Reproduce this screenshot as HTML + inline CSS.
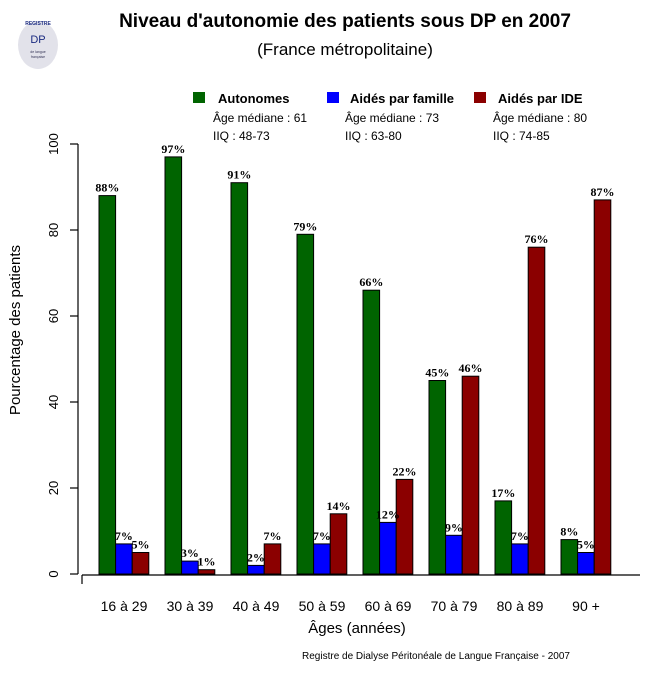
<!DOCTYPE html>
<html><head><meta charset="utf-8"><style>
body{margin:0;background:#fff}
text{font-family:"Liberation Sans",sans-serif}
.v{font-family:"Liberation Serif",serif;font-size:12px;font-weight:bold;text-anchor:middle}
.b rect{stroke:#000;stroke-width:1}
</style></head><body>
<svg width="672" height="672" viewBox="0 0 672 672" xmlns="http://www.w3.org/2000/svg">
<rect width="672" height="672" fill="#fff"/>
<ellipse cx="38" cy="45" rx="20" ry="24" fill="#e2e2ea"/>
<text x="38" y="43" font-size="11" text-anchor="middle" fill="#1a2a80" font-family="Liberation Serif">DP</text>
<text x="38" y="25" font-size="5" text-anchor="middle" fill="#1a2a80" font-weight="bold">REGISTRE</text>
<text x="38" y="53" font-size="3.5" text-anchor="middle" fill="#335">de langue</text>
<text x="38" y="58" font-size="3.5" text-anchor="middle" fill="#335">française</text>
<text x="345" y="27" font-size="19" font-weight="bold" text-anchor="middle">Niveau d'autonomie des patients sous DP en 2007</text>
<text x="345" y="55" font-size="17" text-anchor="middle">(France métropolitaine)</text>
<rect x="193" y="92" width="12" height="11" fill="#006400"/>
<text x="218" y="103" font-size="13" font-weight="bold">Autonomes</text>
<rect x="327" y="92" width="12" height="11" fill="#0000ff"/>
<text x="350" y="103" font-size="13" font-weight="bold">Aidés par famille</text>
<rect x="474" y="92" width="12" height="11" fill="#8b0000"/>
<text x="498" y="103" font-size="13" font-weight="bold">Aidés par IDE</text>
<g font-size="12">
<text x="213" y="122">Âge médiane : 61</text><text x="213" y="140">IIQ : 48-73</text>
<text x="345" y="122">Âge médiane : 73</text><text x="345" y="140">IIQ : 63-80</text>
<text x="493" y="122">Âge médiane : 80</text><text x="493" y="140">IIQ : 74-85</text>
</g>
<g stroke="#000" stroke-width="1.2">
<line x1="78" y1="144" x2="78" y2="574"/>
<line x1="70" y1="144" x2="78" y2="144"/><line x1="70" y1="230" x2="78" y2="230"/>
<line x1="70" y1="316" x2="78" y2="316"/><line x1="70" y1="402" x2="78" y2="402"/>
<line x1="70" y1="488" x2="78" y2="488"/><line x1="70" y1="574" x2="78" y2="574"/>
<line x1="82" y1="575" x2="640" y2="575"/><line x1="82" y1="575" x2="82" y2="584"/>
</g>
<g font-size="13" text-anchor="middle">
<text transform="translate(58,144) rotate(-90)">100</text>
<text transform="translate(58,230) rotate(-90)">80</text>
<text transform="translate(58,316) rotate(-90)">60</text>
<text transform="translate(58,402) rotate(-90)">40</text>
<text transform="translate(58,488) rotate(-90)">20</text>
<text transform="translate(58,574) rotate(-90)">0</text>
<text transform="translate(20,330) rotate(-90)" font-size="15">Pourcentage des patients</text>
</g>
<g class="b">
<g transform="translate(99,0)">
<rect x="0" y="195.6" width="16.6" height="378.4" fill="#006400"/><rect x="16.6" y="543.9" width="16.6" height="30.1" fill="#0000ff"/><rect x="33.2" y="552.5" width="16.6" height="21.5" fill="#8b0000"/>
<text class="v" x="8.3" y="191.6">88%</text><text class="v" x="24.9" y="539.9">7%</text><text class="v" x="41.5" y="548.5">5%</text></g>
<g transform="translate(165,0)">
<rect x="0" y="156.9" width="16.6" height="417.1" fill="#006400"/><rect x="16.6" y="561.1" width="16.6" height="12.9" fill="#0000ff"/><rect x="33.2" y="569.7" width="16.6" height="4.3" fill="#8b0000"/>
<text class="v" x="8.3" y="152.9">97%</text><text class="v" x="24.9" y="557.1">3%</text><text class="v" x="41.5" y="565.7">1%</text></g>
<g transform="translate(231,0)">
<rect x="0" y="182.7" width="16.6" height="391.3" fill="#006400"/><rect x="16.6" y="565.4" width="16.6" height="8.6" fill="#0000ff"/><rect x="33.2" y="543.9" width="16.6" height="30.1" fill="#8b0000"/>
<text class="v" x="8.3" y="178.7">91%</text><text class="v" x="24.9" y="561.4">2%</text><text class="v" x="41.5" y="539.9">7%</text></g>
<g transform="translate(297,0)">
<rect x="0" y="234.3" width="16.6" height="339.7" fill="#006400"/><rect x="16.6" y="543.9" width="16.6" height="30.1" fill="#0000ff"/><rect x="33.2" y="513.8" width="16.6" height="60.2" fill="#8b0000"/>
<text class="v" x="8.3" y="230.3">79%</text><text class="v" x="24.9" y="539.9">7%</text><text class="v" x="41.5" y="509.8">14%</text></g>
<g transform="translate(363,0)">
<rect x="0" y="290.2" width="16.6" height="283.8" fill="#006400"/><rect x="16.6" y="522.4" width="16.6" height="51.6" fill="#0000ff"/><rect x="33.2" y="479.4" width="16.6" height="94.6" fill="#8b0000"/>
<text class="v" x="8.3" y="286.2">66%</text><text class="v" x="24.9" y="518.4">12%</text><text class="v" x="41.5" y="475.4">22%</text></g>
<g transform="translate(429,0)">
<rect x="0" y="380.5" width="16.6" height="193.5" fill="#006400"/><rect x="16.6" y="535.3" width="16.6" height="38.7" fill="#0000ff"/><rect x="33.2" y="376.2" width="16.6" height="197.8" fill="#8b0000"/>
<text class="v" x="8.3" y="376.5">45%</text><text class="v" x="24.9" y="531.3">9%</text><text class="v" x="41.5" y="372.2">46%</text></g>
<g transform="translate(495,0)">
<rect x="0" y="500.9" width="16.6" height="73.1" fill="#006400"/><rect x="16.6" y="543.9" width="16.6" height="30.1" fill="#0000ff"/><rect x="33.2" y="247.2" width="16.6" height="326.8" fill="#8b0000"/>
<text class="v" x="8.3" y="496.9">17%</text><text class="v" x="24.9" y="539.9">7%</text><text class="v" x="41.5" y="243.2">76%</text></g>
<g transform="translate(561,0)">
<rect x="0" y="539.6" width="16.6" height="34.4" fill="#006400"/><rect x="16.6" y="552.5" width="16.6" height="21.5" fill="#0000ff"/><rect x="33.2" y="199.9" width="16.6" height="374.1" fill="#8b0000"/>
<text class="v" x="8.3" y="535.6">8%</text><text class="v" x="24.9" y="548.5">5%</text><text class="v" x="41.5" y="195.9">87%</text></g>
</g>
<g font-size="14" text-anchor="middle">
<text x="124" y="611">16 à 29</text><text x="190" y="611">30 à 39</text>
<text x="256" y="611">40 à 49</text><text x="322" y="611">50 à 59</text>
<text x="388" y="611">60 à 69</text><text x="454" y="611">70 à 79</text>
<text x="520" y="611">80 à 89</text><text x="586" y="611">90 +</text>
<text x="357" y="633" font-size="15">Âges (années)</text>
</g>
<text x="436" y="659" font-size="10" text-anchor="middle">Registre de Dialyse Péritonéale de Langue Française - 2007</text>
</svg>
</body></html>
